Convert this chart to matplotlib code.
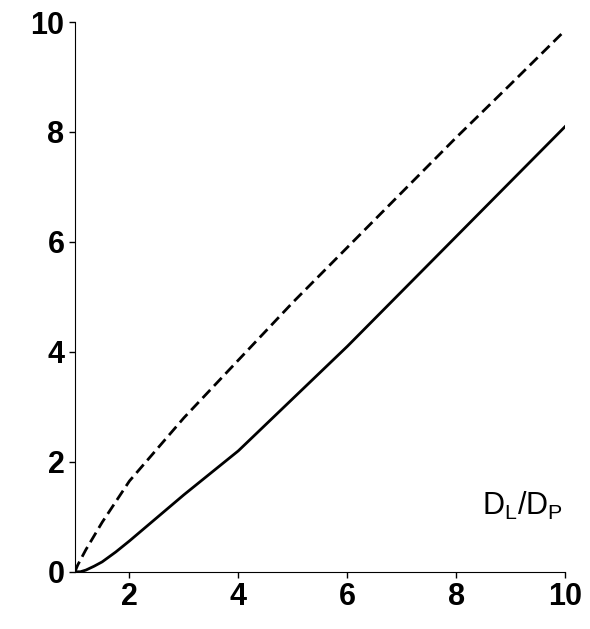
import numpy as np
import matplotlib.pyplot as plt

# valeurs
x_tiret = [1.0, 1.05, 1.2, 1.5, 2.0, 3.0, 4.0, 5.0, 6.0, 7.0, 8.0, 9.0, 10.0]
y_tiret = [0.0, 0.12, 0.4, 0.9, 1.65, 2.8, 3.85, 4.9, 5.9, 6.9, 7.9, 8.87, 9.85]
x_plein = [1.0, 1.1, 1.2, 1.35, 1.5, 1.75, 2.0, 2.5, 3.0, 4.0, 5.0, 6.0, 7.0, 8.0, 9.0, 10.0]
y_plein = [0.0, 0.0, 0.03, 0.1, 0.18, 0.36, 0.56, 0.98, 1.4, 2.2, 3.15, 4.1, 5.1, 6.1, 7.1, 8.1]

fig = plt.figure(figsize=(5.9, 6.29), dpi=100)
ax = fig.add_axes([0.127, 0.091, 0.831, 0.874])

ax.plot(x_tiret, y_tiret, color='black', linestyle=(0, (4, 2)), linewidth=2)
ax.plot(x_plein, y_plein, color='black', linewidth=2)

ax.set_xlim(1, 10)
ax.set_ylim(0, 10)
ax.spines['top'].set_visible(False)
ax.spines['right'].set_visible(False)
ax.set_xticks([2, 4, 6, 8, 10])
ax.set_yticks([0, 2, 4, 6, 8, 10])
ax.tick_params(labelsize=22, length=4, width=1)
for lab in ax.get_xticklabels() + ax.get_yticklabels():
    lab.set_fontweight('bold')
    lab.set_family('Liberation Sans')

ax.text(9.95, 0.9, r"D$_\mathregular{L}$/D$_\mathregular{P}$", fontsize=22,
        ha='right', va='bottom', family='Liberation Sans')

fig.savefig("out.png")
